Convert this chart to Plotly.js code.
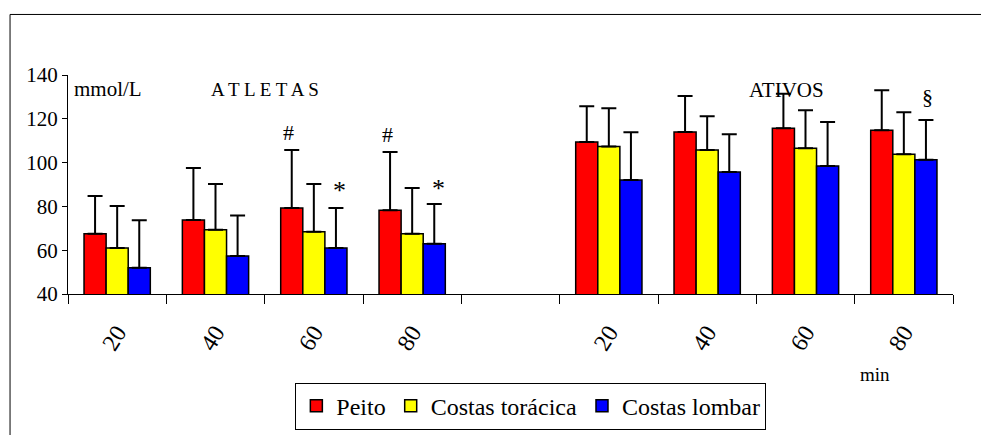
<!DOCTYPE html>
<html>
<head>
<meta charset="utf-8">
<script src="https://cdn.plot.ly/plotly-3.0.1.min.js"></script>
<style>html,body{margin:0;padding:0;background:#fff;}#chart{width:981px;height:435px;}</style>
</head>
<body>
<div id="chart"></div>
<script>
// Categories: two groups (ATLETAS, ATIVOS) of time points, with a blank slot between them
var categories = ['A20', 'A40', 'A60', 'A80', 'gap', 'B20', 'B40', 'B60', 'B80'];
var tickLabels = ['20', '40', '60', '80', '', '20', '40', '60', '80'];

var seriesNames = ['Peito', 'Costas torácica', 'Costas lombar'];
var seriesColors = ['#FF0000', '#FFFF00', '#0000FF'];

var peito      = [67.5, 73.8, 79.3, 78.2, null, 109.4, 114.0, 115.7, 114.8];
var peitoErr   = [17.3, 23.7, 26.4, 26.6, null, 16.3, 16.4, 15.7, 18.2];
var toracica   = [61.0, 69.3, 68.4, 67.5, null, 107.4, 105.7, 106.6, 103.8];
var toracicaErr= [19.2, 20.9, 21.8, 20.9, null, 17.4, 15.5, 17.3, 19.2];
var lombar     = [52.0, 57.4, 61.0, 62.9, null, 92.0, 95.7, 98.4, 101.3];
var lombarErr  = [21.7, 18.4, 18.3, 18.2, null, 21.9, 17.3, 20.1, 18.1];

var values = [peito, toracica, lombar];
var errors = [peitoErr, toracicaErr, lombarErr];

var serif = 'Liberation Serif, Times New Roman, serif';

var traces = values.map(function (v, i) {
  return {
    type: 'bar',
    name: seriesNames[i],
    x: categories,
    y: v,
    marker: {color: seriesColors[i], line: {color: '#000', width: 1.5}},
    error_y: {
      type: 'data', symmetric: false,
      array: errors[i],
      arrayminus: errors[i].map(function (e) { return e === null ? null : 0; }),
      color: '#000', thickness: 2, width: 7.5
    },
    hoverinfo: 'x+y'
  };
});

var layout = {
  width: 981, height: 435,
  margin: {l: 68, r: 28, t: 75, b: 141, autoexpand: false},
  paper_bgcolor: '#fff', plot_bgcolor: '#fff',
  font: {family: serif, color: '#000', size: 20},
  barmode: 'group', bargap: 0.326, bargroupgap: 0,
  showlegend: true,
  legend: {
    orientation: 'h', x: 0.523, xanchor: 'center', y: -0.405, yanchor: 'top',
    bordercolor: '#000', borderwidth: 1, bgcolor: '#fff',
    font: {family: serif, size: 24, color: '#000'},
    itemwidth: 20, tracegroupgap: 0
  },
  xaxis: {
    type: 'category', categoryorder: 'array', categoryarray: categories,
    range: [-0.5, 8.5], automargin: false,
    tickmode: 'array', tickvals: categories, ticktext: tickLabels,
    tickson: 'boundaries', ticks: 'outside', ticklen: 9, tickcolor: '#000', tickwidth: 1,
    tickangle: -58, ticklabelstandoff: 14,
    tickfont: {family: serif, size: 24, color: '#000'},
    showline: true, linecolor: '#000', linewidth: 1,
    showgrid: false, zeroline: false, fixedrange: true
  },
  yaxis: {
    range: [40, 140], tickvals: [40, 60, 80, 100, 120, 140], automargin: false,
    ticks: 'outside', ticklen: 5, tickcolor: '#000', tickwidth: 1,
    tickfont: {family: serif, size: 21, color: '#000'},
    showline: true, linecolor: '#000', linewidth: 1,
    showgrid: false, zeroline: false, fixedrange: true
  },
  annotations: [
    {text: 'mmol/L', xref: 'paper', yref: 'paper', x: 0.004, y: 0.935, xanchor: 'left', yanchor: 'middle', showarrow: false, font: {family: serif, size: 21}},
    {text: 'A T L E T A S', xref: 'paper', yref: 'paper', x: 0.223, y: 0.935, xanchor: 'center', yanchor: 'middle', showarrow: false, font: {family: serif, size: 19}},
    {text: 'ATIVOS', xref: 'paper', yref: 'paper', x: 0.812, y: 0.93, xanchor: 'center', yanchor: 'middle', showarrow: false, font: {family: serif, size: 21}},
    {text: '#', x: 'A60', xshift: -25, y: 105.7, yanchor: 'bottom', yshift: 3, showarrow: false, font: {family: serif, size: 22}},
    {text: '#', x: 'A80', xshift: -25, y: 104.8, yanchor: 'bottom', yshift: 3, showarrow: false, font: {family: serif, size: 22}},
    {text: '*', x: 'A60', xshift: 26, y: 79.3, yanchor: 'bottom', yshift: 1, showarrow: false, font: {family: serif, size: 26}},
    {text: '*', x: 'A80', xshift: 26, y: 81.1, yanchor: 'bottom', yshift: -1, showarrow: false, font: {family: serif, size: 26}},
    {text: '§', x: 'B80', xshift: 24, y: 119.4, yanchor: 'bottom', yshift: 9, showarrow: false, font: {family: serif, size: 22}},
    {text: 'min', xref: 'paper', yref: 'paper', x: 0.912, y: -0.367, xanchor: 'center', yanchor: 'middle', showarrow: false, font: {family: serif, size: 19}}
  ],
  shapes: [
    {type: 'rect', xref: 'paper', yref: 'paper', x0: -0.0655, x1: 1.04, y0: -0.7, y1: 1.2764,
     line: {color: '#000', width: 1}, fillcolor: 'rgba(0,0,0,0)', layer: 'below'}
  ]
};

Plotly.newPlot('chart', traces, layout, {displayModeBar: false, staticPlot: true});
</script>
</body>
</html>
